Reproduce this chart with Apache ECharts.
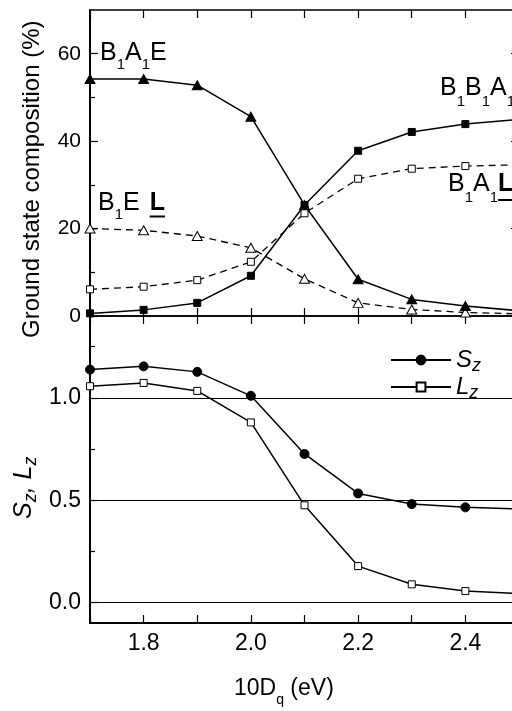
<!DOCTYPE html>
<html>
<head>
<meta charset="utf-8">
<script src="https://cdn.jsdelivr.net/npm/echarts@6/dist/echarts.min.js"></script>
<style>
  html, body { margin: 0; padding: 0; background: #fff; }
  #chart { width: 512px; height: 711px; }
</style>
</head>
<body>
<div id="chart"></div>
<script>
// crystal-field strength 10Dq (eV)
const tenDq = [1.7, 1.8, 1.9, 2.0, 2.1, 2.2, 2.3, 2.4, 2.5];

// ground state composition (%)
const wB1A1E  = [54.2, 54.2, 52.8, 45.6, 25.4, 8.4, 3.8, 2.3, 1.2];
const wB1B1A1 = [0.6, 1.4, 3.0, 9.2, 25.4, 37.8, 42.1, 43.9, 45.0];
const wB1A1L  = [6.1, 6.7, 8.2, 12.4, 23.5, 31.4, 33.7, 34.3, 34.6];
const wB1EL   = [20.0, 19.6, 18.3, 15.6, 8.5, 3.0, 1.5, 0.8, 0.5];

// spin and orbital moments
const sz = [1.138, 1.154, 1.127, 1.010, 0.726, 0.533, 0.481, 0.465, 0.457];
const lz = [1.057, 1.073, 1.034, 0.880, 0.475, 0.178, 0.089, 0.056, 0.044];

// axis ticks and labels
const xRange = [1.7, 2.5];
const xStep = 0.1;
const xLabelValues = [1.8, 2.0, 2.2, 2.4];
const compRange = [0, 70];
const compMajor = [0, 20, 40, 60];
const compMinor = [10, 30, 50];
const momRange = [-0.1, 1.4];
const momMajor = [0, 0.5, 1.0];
const momMinor = [0.25, 0.75, 1.25];
const momRefLevels = [0, 0.5, 1.0];

const FONT = '"Liberation Sans", Arial, Helvetica, sans-serif';
const BLACK = '#000';

const pairs = ys => tenDq.map((x, i) => [x, ys[i]]);

// text with subscript pieces, laid out by measured widths
const mctx = document.createElement('canvas').getContext('2d');
const fontOf = p => (p.italic ? 'italic ' : '') + (p.bold ? 'bold ' : '') + p.size + 'px ' + FONT;
function composeText(pieces, x, y, rotation) {
  let cx = 0;
  const kids = [];
  pieces.forEach(p => {
    cx += p.gap || 0;
    const font = fontOf(p);
    mctx.font = font;
    const w = mctx.measureText(p.text).width;
    const base = p.dy || 0;
    kids.push({
      type: 'text', x: cx, y: base - 0.3465 * p.size,
      style: { text: p.text, font: font, fill: BLACK,
               textAlign: 'left', textVerticalAlign: 'middle',
               align: 'left', verticalAlign: 'middle' }
    });
    if (p.underline) {
      kids.push({ type: 'rect', shape: { x: cx, y: base + p.underline, width: w, height: 2 },
                  style: { fill: BLACK } });
    }
    cx += w;
  });
  return { type: 'group', x: x, y: y, rotation: rotation || 0, silent: true, children: kids };
}
const big = t => ({ text: t, size: 25 });
const sub = (t, dy) => ({ text: t, size: 15, dy: dy });

function xAxisFor(gridIndex, position, lineWidth, withLabels) {
  return {
    type: 'value', gridIndex, position,
    min: xRange[0], max: xRange[1], interval: xStep,
    axisLine: { show: true, onZero: false, lineStyle: { color: BLACK, width: lineWidth } },
    axisTick: { show: true, inside: true, length: 8, lineStyle: { color: BLACK, width: 1.2 } },
    axisLabel: withLabels ? {
      show: true, customValues: xLabelValues, formatter: v => v.toFixed(1),
      color: BLACK, fontSize: 23, fontFamily: FONT, margin: 9
    } : { show: false },
    splitLine: { show: false }
  };
}

function yAxisFor(gridIndex, position, range, tickValues, tickLen, line, label) {
  return {
    type: 'value', gridIndex, position, min: range[0], max: range[1],
    axisLine: line ? { show: true, onZero: false, lineStyle: { color: BLACK, width: line } } : { show: false },
    axisTick: { show: true, inside: true, length: tickLen, customValues: tickValues,
                lineStyle: { color: BLACK, width: 1.2 } },
    axisLabel: label ? Object.assign({ show: true, customValues: tickValues, color: BLACK,
                fontFamily: FONT, margin: 9 }, label) : { show: false },
    splitLine: { show: false }
  };
}

const solid = { color: BLACK, width: 1.5, type: 'solid' };
const dashed = { color: BLACK, width: 1.3, type: [7, 5] };
const filled = { color: BLACK, borderColor: BLACK, borderWidth: 1 };
const hollow = { color: '#fff', borderColor: BLACK, borderWidth: 1 };

const option = {
  animation: false,
  backgroundColor: '#fff',
  grid: [
    { left: 90, top: 10, width: 429, height: 306, containLabel: false, outerBoundsMode: 'none' },
    { left: 90, top: 316, width: 429, height: 307, containLabel: false, outerBoundsMode: 'none' }
  ],
  xAxis: [
    xAxisFor(0, 'bottom', 1.6, false),
    xAxisFor(0, 'top', 1.5, false),
    xAxisFor(1, 'bottom', 2, true),
    xAxisFor(1, 'top', 1.6, false)
  ],
  yAxis: [
    yAxisFor(0, 'left', compRange, compMajor, 8, 2, { fontSize: 21 }),
    yAxisFor(0, 'left', compRange, compMinor, 5, 0, null),
    yAxisFor(0, 'right', compRange, compMajor, 8, 1.5, null),
    yAxisFor(1, 'left', momRange, momMajor, 8, 2, { fontSize: 23, formatter: v => v.toFixed(1) }),
    yAxisFor(1, 'left', momRange, momMinor, 5, 0, null),
    yAxisFor(1, 'right', momRange, momMajor, 8, 1.5, null)
  ],
  legend: {
    data: ['Sz', 'Lz'],
    orient: 'vertical', left: 390, top: 348, padding: 0, itemGap: 0,
    itemWidth: 60, itemHeight: 11,
    formatter: name => '{m|' + name[0] + '}{s|' + name[1] + '}',
    textStyle: {
      color: BLACK, fontFamily: FONT,
      rich: {
        m: { fontSize: 24, fontStyle: 'italic', fontFamily: FONT, color: BLACK, lineHeight: 30, verticalAlign: 'middle' },
        s: { fontSize: 18, fontStyle: 'italic', fontFamily: FONT, color: BLACK, lineHeight: 14, verticalAlign: 'bottom' }
      }
    }
  },
  series: [
    { name: 'B1A1E', type: 'line', xAxisIndex: 0, yAxisIndex: 0, data: pairs(wB1A1E),
      symbol: 'triangle', symbolSize: [10, 9], lineStyle: solid, itemStyle: filled, z: 4 },
    { name: 'B1B1A1', type: 'line', xAxisIndex: 0, yAxisIndex: 0, data: pairs(wB1B1A1),
      symbol: 'rect', symbolSize: 7, lineStyle: solid, itemStyle: filled, z: 5 },
    { name: 'B1A1L', type: 'line', xAxisIndex: 0, yAxisIndex: 0, data: pairs(wB1A1L),
      symbol: 'rect', symbolSize: 7, lineStyle: dashed, itemStyle: hollow, z: 3 },
    { name: 'B1EL', type: 'line', xAxisIndex: 0, yAxisIndex: 0, data: pairs(wB1EL),
      symbol: 'triangle', symbolSize: [10, 9], lineStyle: dashed, itemStyle: hollow, z: 3 },
    { name: 'Sz', type: 'line', xAxisIndex: 2, yAxisIndex: 3, data: pairs(sz),
      symbol: 'circle', symbolSize: 9, lineStyle: solid, itemStyle: filled, z: 4,
      markLine: {
        silent: true, symbol: 'none', label: { show: false },
        lineStyle: { color: BLACK, width: 1, type: 'solid' },
        data: momRefLevels.map(v => ({ yAxis: v }))
      } },
    { name: 'Lz', type: 'line', xAxisIndex: 2, yAxisIndex: 3, data: pairs(lz),
      symbol: 'rect', symbolSize: 7, lineStyle: solid, itemStyle: hollow, z: 4 }
  ],
  graphic: [
    composeText([big('B'), sub('1', 8), big('A'), sub('1', 8), big('E')], 100, 62),
    composeText([big('B'), sub('1', 9), big('E'),
                 { text: 'L', size: 25, bold: true, gap: 10, underline: 4 }], 98, 211.5),
    composeText([big('B'), sub('1', 10), big('B'), sub('1', 10), big('A'), sub('1', 10)], 440, 97),
    composeText([big('B'), sub('1', 10), big('A'), sub('1', 10),
                 { text: 'L', size: 25, bold: true, underline: 6 }], 448, 193),
    composeText([{ text: '10D', size: 23 }, { text: 'q', size: 14, dy: 8 }, { text: ' (eV)', size: 23 }],
                234, 696.7),
    composeText([{ text: 'Ground state composition (%)', size: 24 }], 41, 338, Math.PI / 2),
    composeText([{ text: 'S', size: 25, italic: true }, { text: 'z', size: 18, italic: true, dy: 4 },
                 { text: ', ', size: 25, italic: true }, { text: 'L', size: 25, italic: true },
                 { text: 'z', size: 18, italic: true, dy: 4 }], 33, 519, Math.PI / 2)
  ]
};

const chart = echarts.init(document.getElementById('chart'), null, { renderer: 'canvas' });
chart.setOption(option);
</script>
</body>
</html>
